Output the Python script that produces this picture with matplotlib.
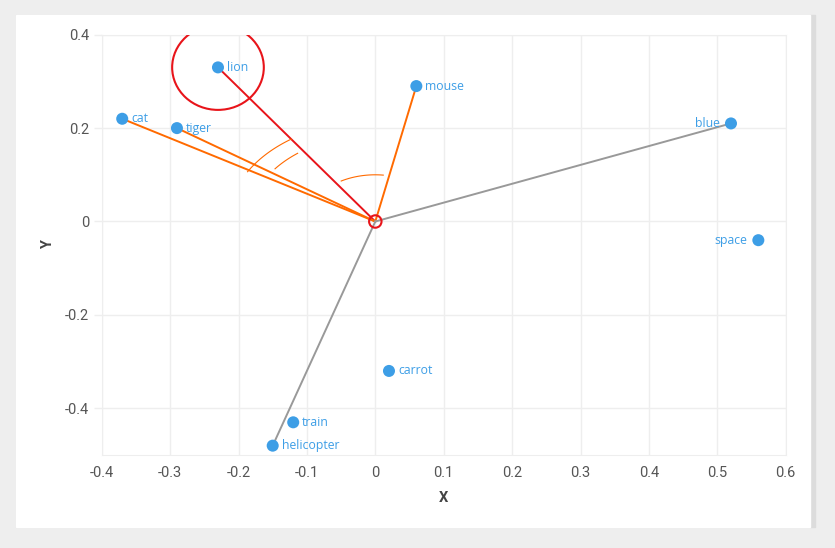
import numpy as np
import matplotlib.pyplot as plt
from matplotlib.patches import Ellipse, Rectangle

words = ['lion', 'mouse', 'cat', 'tiger', 'blue', 'space', 'carrot', 'train', 'helicopter']
xs = [-0.23, 0.06, -0.37, -0.29, 0.52, 0.56, 0.02, -0.12, -0.15]
ys = [0.33, 0.29, 0.22, 0.20, 0.21, -0.04, -0.32, -0.43, -0.48]
left_labels = ['blue', 'space']

red_words = ['lion']
orange_words = ['cat', 'tiger', 'mouse']
gray_words = ['blue', 'helicopter']

# angle arcs: (word a, word b, radius, trim in degrees)
arcs = [('lion', 'cat', 0.215, 0), ('lion', 'tiger', 0.185, 3), ('mouse', 'lion', 0.10, 5)]

xticks = [-0.4, -0.3, -0.2, -0.1, 0, 0.1, 0.2, 0.3, 0.4, 0.5, 0.6]
yticks = [-0.4, -0.2, 0, 0.2, 0.4]

pt_color = '#3d9ee6'
grid_color = '#eeeeee'
fam = ['Roboto', 'DejaVu Sans']
label_fam = ['Open Sans', 'DejaVu Sans']

fig = plt.figure(figsize=(8.35, 5.48), dpi=100)
fig.patch.set_facecolor('#eeeeee')
fig.patches.append(Rectangle((16/835, 1-527/548), (815-16)/835, (527-15)/548,
                             transform=fig.transFigure, color='#dcdcdc', zorder=-2))
fig.patches.append(Rectangle((16/835, 1-527/548), (810-16)/835, (527-15)/548,
                             transform=fig.transFigure, color='white', zorder=-1))

ax = fig.add_axes([101.7/835, 1-455/548, (785.7-101.7)/835, (455-34.7)/548])
ax.set_facecolor('white')
ax.set_xlim(-0.4, 0.6)
ax.set_ylim(-0.5, 0.4)

pos = dict(zip(words, zip(xs, ys)))

for w in red_words:
    ax.plot([0, pos[w][0]], [0, pos[w][1]], color='#e8141a', lw=1.4, zorder=3)
for w in orange_words:
    ax.plot([0, pos[w][0]], [0, pos[w][1]], color='#ff6a00', lw=1.4, zorder=3)
for w in gray_words:
    ax.plot([0, pos[w][0]], [0, pos[w][1]], color='#999999', lw=1.4, zorder=3)

# arcs drawn in data space
for a, b, r, trim in arcs:
    t1 = np.degrees(np.arctan2(pos[a][1], pos[a][0]))
    t2 = np.degrees(np.arctan2(pos[b][1], pos[b][0]))
    lo, hi = sorted([t1, t2])
    t = np.radians(np.linspace(lo + trim, hi + (1 if trim == 0 else -trim), 50))
    ax.plot(r*np.cos(t), r*np.sin(t), color='#ff6a00', lw=0.8, zorder=3)

ax.scatter(xs, ys, s=75, color=pt_color, zorder=4, edgecolors='none')
ax.scatter([0], [0], s=80, facecolors='none', edgecolors='#e8141a', linewidths=1.5, zorder=5)

ax.add_patch(Ellipse(pos['lion'], 0.134, 0.182, fill=False, edgecolor='#e8141a', lw=1.5, zorder=5))

for w, x, y in zip(words, xs, ys):
    if w in left_labels:
        ax.annotate(w, (x, y), xytext=(-8, 0), textcoords='offset points', ha='right', va='center',
                    color=pt_color, fontsize=8.8, family=label_fam)
    else:
        ax.annotate(w, (x, y), xytext=(6.5, 0), textcoords='offset points', ha='left', va='center',
                    color=pt_color, fontsize=8.8, family=label_fam)

ax.set_xticks(xticks)
ax.set_xticklabels(['0' if v == 0 else f'{v:g}' for v in xticks])
ax.set_yticks(yticks)
ax.set_yticklabels(['0' if v == 0 else f'{v:g}' for v in yticks])
ax.tick_params(axis='x', length=0, labelsize=10.5, labelcolor='#555555', pad=8)
ax.tick_params(axis='y', length=6, width=1, color=grid_color, labelsize=10.5, labelcolor='#555555', pad=3)
for lab in ax.get_xticklabels() + ax.get_yticklabels():
    lab.set_family(fam)
ax.grid(True, color=grid_color, lw=1)
ax.set_axisbelow(True)
for s in ax.spines.values():
    s.set_color(grid_color)

ax.set_xlabel('X', fontsize=10.5, fontweight='bold', color='#444444', family=fam, labelpad=8)
ax.set_ylabel('Y', fontsize=10.5, fontweight='bold', color='#444444', family=fam, labelpad=7)

fig.savefig('out.png', dpi=100, facecolor=fig.get_facecolor())
